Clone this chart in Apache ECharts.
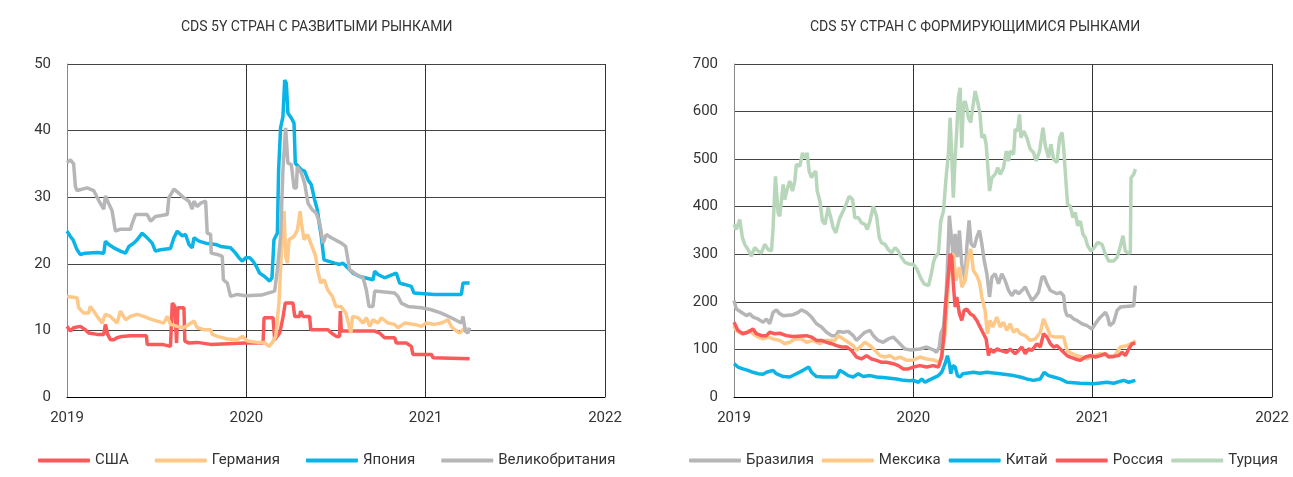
<!DOCTYPE html>
<html>
<head>
<meta charset="utf-8">
<script src="https://cdn.jsdelivr.net/npm/echarts@6/dist/echarts.min.js"></script>
<style>
    html, body { margin: 0; padding: 0; background: #fff; }
    #chart { width: 1293px; height: 477px; }
</style>
</head>
<body>
<div id="chart"></div>
<script>
    // x = decimal year, y = CDS 5Y, b.p.
    var years = [2019, 2020, 2021, 2022];

    // ---- развитые рынки ----
    var usa = [[2019.000,10.6],[2019.019,9.9],[2019.037,10.4],[2019.074,10.6],[2019.102,10.1],[2019.121,9.6],[2019.168,9.4],[2019.205,9.4],[2019.214,10.9],[2019.227,9.4],[2019.242,8.6],[2019.261,8.6],[2019.279,8.9],[2019.307,9.1],[2019.354,9.2],[2019.443,9.2],[2019.447,7.9],[2019.531,7.9],[2019.536,7.6],[2019.577,7.6],[2019.587,14.1],[2019.601,13.6],[2019.611,8.1],[2019.618,13.4],[2019.652,13.4],[2019.657,8.4],[2019.680,8.1],[2019.726,8.2],[2019.801,7.9],[2019.996,8.1],[2020.093,8.1],[2020.099,11.9],[2020.149,11.9],[2020.158,8.6],[2020.186,9.6],[2020.204,11.9],[2020.217,14.1],[2020.260,14.1],[2020.270,12.1],[2020.297,12.1],[2020.303,12.9],[2020.316,12.1],[2020.353,12.1],[2020.359,10.1],[2020.455,10.1],[2020.474,9.6],[2020.502,9.1],[2020.520,9.1],[2020.524,12.9],[2020.530,9.9],[2020.716,9.9],[2020.743,9.6],[2020.771,8.9],[2020.827,8.9],[2020.836,8.1],[2020.892,8.1],[2020.920,7.6],[2020.929,6.4],[2021.032,6.4],[2021.041,5.9],[2021.245,5.75]];
    var germany = [[2019.000,15.1],[2019.056,14.9],[2019.065,13.4],[2019.093,12.6],[2019.121,12.6],[2019.130,13.6],[2019.149,12.9],[2019.168,12.1],[2019.196,11.1],[2019.214,12.4],[2019.242,12.1],[2019.261,11.6],[2019.279,11.1],[2019.298,12.9],[2019.326,11.6],[2019.354,12.1],[2019.391,12.4],[2019.428,12.1],[2019.466,11.7],[2019.503,11.4],[2019.540,11.1],[2019.559,12.1],[2019.577,10.9],[2019.615,10.6],[2019.652,10.4],[2019.708,11.4],[2019.726,10.4],[2019.764,10.1],[2019.801,10.1],[2019.810,9.4],[2019.838,9.1],[2019.894,8.7],[2019.950,8.6],[2019.978,9.1],[2020.006,8.4],[2020.061,8.2],[2020.099,8.2],[2020.127,7.6],[2020.145,8.2],[2020.164,9.1],[2020.182,14.1],[2020.196,22.1],[2020.210,27.9],[2020.220,21.1],[2020.229,20.1],[2020.238,23.6],[2020.266,24.1],[2020.285,25.1],[2020.300,27.9],[2020.307,26.1],[2020.322,23.6],[2020.341,24.4],[2020.359,23.1],[2020.387,21.1],[2020.397,19.1],[2020.415,17.1],[2020.434,17.6],[2020.453,16.1],[2020.480,15.1],[2020.499,13.6],[2020.527,13.6],[2020.555,12.6],[2020.583,9.6],[2020.592,12.1],[2020.623,11.9],[2020.651,11.1],[2020.669,11.9],[2020.688,10.6],[2020.706,11.6],[2020.734,11.1],[2020.753,11.9],[2020.790,11.1],[2020.827,10.9],[2020.846,10.4],[2020.883,11.1],[2020.939,10.9],[2020.976,10.6],[2021.004,11.1],[2021.050,10.9],[2021.087,11.1],[2021.125,11.6],[2021.143,10.6],[2021.162,10.1],[2021.190,9.6],[2021.208,10.1],[2021.236,10.2]];
    var japan = [[2019.000,24.9],[2019.009,25.1],[2019.019,24.1],[2019.034,23.6],[2019.056,22.1],[2019.074,21.4],[2019.102,21.6],[2019.168,21.7],[2019.205,21.6],[2019.214,23.4],[2019.233,22.9],[2019.261,22.4],[2019.298,21.9],[2019.326,21.6],[2019.345,22.6],[2019.372,23.1],[2019.391,23.6],[2019.419,24.6],[2019.447,23.9],[2019.475,23.1],[2019.493,21.9],[2019.521,22.1],[2019.577,22.3],[2019.596,23.9],[2019.615,24.9],[2019.642,24.2],[2019.661,24.4],[2019.680,22.9],[2019.698,22.4],[2019.708,23.9],[2019.736,23.4],[2019.773,23.1],[2019.829,22.9],[2019.857,22.6],[2019.912,22.4],[2019.940,21.6],[2019.959,20.9],[2019.978,20.4],[2019.996,20.9],[2020.019,20.9],[2020.037,20.4],[2020.056,19.6],[2020.074,18.6],[2020.102,18.1],[2020.130,17.4],[2020.143,17.9],[2020.154,23.6],[2020.173,24.6],[2020.180,34.1],[2020.191,40.4],[2020.204,42.1],[2020.214,47.6],[2020.223,47.1],[2020.232,42.6],[2020.251,41.9],[2020.266,41.1],[2020.273,35.1],[2020.307,34.1],[2020.325,33.9],[2020.344,32.6],[2020.362,31.9],[2020.381,29.6],[2020.396,28.1],[2020.409,25.6],[2020.418,24.1],[2020.433,20.6],[2020.493,20.1],[2020.520,19.9],[2020.539,20.1],[2020.558,19.6],[2020.576,19.1],[2020.595,18.6],[2020.632,18.1],[2020.706,17.6],[2020.716,18.9],[2020.734,18.4],[2020.771,17.9],[2020.818,18.4],[2020.836,18.6],[2020.855,17.1],[2020.883,16.9],[2020.920,16.6],[2020.935,15.6],[2021.050,15.4],[2021.199,15.4],[2021.208,17.1],[2021.245,17.1]];
    var uk = [[2019.000,35.2],[2019.019,35.6],[2019.037,35.0],[2019.047,31.6],[2019.056,31.0],[2019.112,31.4],[2019.149,31.0],[2019.177,29.5],[2019.205,28.2],[2019.214,30.2],[2019.233,29.0],[2019.251,28.0],[2019.270,24.9],[2019.298,25.2],[2019.354,25.2],[2019.363,26.0],[2019.382,27.4],[2019.447,27.4],[2019.466,26.4],[2019.493,27.1],[2019.559,27.4],[2019.568,29.9],[2019.596,31.2],[2019.624,30.6],[2019.652,29.9],[2019.680,29.4],[2019.698,28.2],[2019.708,29.4],[2019.726,28.6],[2019.745,29.1],[2019.773,29.4],[2019.782,24.6],[2019.801,24.4],[2019.804,21.6],[2019.838,21.4],[2019.866,21.1],[2019.872,17.6],[2019.894,17.1],[2019.912,15.1],[2019.950,15.4],[2019.996,15.2],[2020.084,15.3],[2020.158,15.9],[2020.173,19.1],[2020.191,24.1],[2020.204,34.0],[2020.219,40.4],[2020.232,35.1],[2020.251,34.9],[2020.266,31.4],[2020.279,31.4],[2020.284,34.6],[2020.307,33.6],[2020.325,32.1],[2020.344,29.1],[2020.368,28.1],[2020.390,27.6],[2020.409,26.1],[2020.428,23.1],[2020.446,24.4],[2020.474,23.9],[2020.530,23.1],[2020.554,22.6],[2020.576,19.1],[2020.613,18.4],[2020.651,17.9],[2020.669,16.1],[2020.684,13.6],[2020.706,13.6],[2020.716,15.9],[2020.827,15.6],[2020.846,15.1],[2020.864,14.1],[2020.901,13.6],[2020.976,13.4],[2021.032,13.1],[2021.087,12.6],[2021.143,11.9],[2021.199,11.1],[2021.208,12.1],[2021.221,9.9],[2021.236,9.6],[2021.245,10.4]];

    // ---- формирующиеся рынки ----
    var brazil = [[2019.000,203],[2019.013,185],[2019.041,178],[2019.069,171],[2019.088,175],[2019.106,168],[2019.134,164],[2019.162,157],[2019.181,164],[2019.199,154],[2019.218,178],[2019.236,183],[2019.255,175],[2019.274,171],[2019.330,173],[2019.358,178],[2019.376,183],[2019.404,178],[2019.432,168],[2019.460,154],[2019.488,147],[2019.516,136],[2019.544,129],[2019.568,129],[2019.581,138],[2019.609,136],[2019.637,138],[2019.665,129],[2019.683,119],[2019.702,126],[2019.730,136],[2019.758,140],[2019.777,129],[2019.804,119],[2019.832,115],[2019.860,122],[2019.888,126],[2019.907,119],[2019.935,108],[2019.953,101],[2019.981,99],[2020.037,101],[2020.074,105],[2020.112,99],[2020.130,94],[2020.145,105],[2020.153,133],[2020.168,147],[2020.182,210],[2020.190,273],[2020.201,381],[2020.214,329],[2020.223,287],[2020.233,343],[2020.246,294],[2020.257,350],[2020.270,280],[2020.289,245],[2020.298,315],[2020.311,371],[2020.322,322],[2020.339,315],[2020.354,336],[2020.369,350],[2020.382,322],[2020.395,287],[2020.410,259],[2020.425,210],[2020.438,252],[2020.456,259],[2020.475,238],[2020.493,259],[2020.512,245],[2020.531,224],[2020.549,213],[2020.568,224],[2020.587,217],[2020.605,224],[2020.624,231],[2020.642,217],[2020.661,203],[2020.680,210],[2020.698,220],[2020.717,252],[2020.730,253],[2020.745,238],[2020.764,224],[2020.801,217],[2020.819,220],[2020.838,213],[2020.847,182],[2020.857,171],[2020.875,171],[2020.894,164],[2020.912,161],[2020.940,154],[2020.968,150],[2020.996,143],[2021.015,154],[2021.034,164],[2021.052,171],[2021.071,178],[2021.084,168],[2021.095,150],[2021.117,157],[2021.136,182],[2021.155,189],[2021.229,192],[2021.238,234]];
    var mexico = [[2019.000,150],[2019.013,140],[2019.041,133],[2019.069,136],[2019.088,140],[2019.106,133],[2019.134,126],[2019.162,122],[2019.190,126],[2019.218,122],[2019.255,119],[2019.283,112],[2019.311,115],[2019.339,122],[2019.376,122],[2019.404,115],[2019.441,119],[2019.479,112],[2019.507,119],[2019.562,119],[2019.581,129],[2019.609,122],[2019.637,115],[2019.665,108],[2019.683,98],[2019.711,108],[2019.730,115],[2019.758,108],[2019.786,98],[2019.814,87],[2019.842,84],[2019.870,87],[2019.898,80],[2019.926,84],[2019.963,77],[2020.000,78],[2020.037,84],[2020.074,80],[2020.112,78],[2020.145,73],[2020.158,87],[2020.177,133],[2020.190,210],[2020.205,294],[2020.223,301],[2020.238,245],[2020.257,273],[2020.270,231],[2020.289,245],[2020.307,294],[2020.320,311],[2020.335,266],[2020.354,255],[2020.369,241],[2020.382,210],[2020.400,182],[2020.413,133],[2020.428,161],[2020.443,147],[2020.466,168],[2020.484,147],[2020.503,157],[2020.521,140],[2020.540,154],[2020.559,136],[2020.577,143],[2020.596,133],[2020.624,129],[2020.652,119],[2020.680,122],[2020.708,136],[2020.726,164],[2020.745,147],[2020.764,129],[2020.791,126],[2020.838,126],[2020.857,98],[2020.885,91],[2020.912,87],[2020.940,84],[2020.968,80],[2021.006,87],[2021.043,91],[2021.117,84],[2021.155,105],[2021.192,108],[2021.229,115],[2021.238,119]];
    var china = [[2019.000,70],[2019.022,63],[2019.050,59],[2019.078,56],[2019.106,52],[2019.134,49],[2019.162,48],[2019.181,52],[2019.218,56],[2019.236,49],[2019.274,43],[2019.311,42],[2019.348,49],[2019.385,56],[2019.417,63],[2019.432,52],[2019.460,43],[2019.497,42],[2019.572,42],[2019.590,56],[2019.609,52],[2019.637,45],[2019.665,42],[2019.693,49],[2019.721,43],[2019.758,45],[2019.795,42],[2019.832,41],[2019.907,38],[2019.944,35],[2019.981,34],[2020.000,35],[2020.028,31],[2020.047,38],[2020.065,31],[2020.084,35],[2020.102,38],[2020.140,45],[2020.158,52],[2020.177,70],[2020.190,87],[2020.201,70],[2020.209,49],[2020.220,66],[2020.233,63],[2020.246,45],[2020.261,42],[2020.276,49],[2020.335,52],[2020.372,50],[2020.410,52],[2020.484,49],[2020.559,45],[2020.596,42],[2020.633,38],[2020.670,35],[2020.708,38],[2020.730,52],[2020.754,45],[2020.782,42],[2020.819,38],[2020.857,31],[2020.931,29],[2021.006,28],[2021.080,31],[2021.117,29],[2021.173,35],[2021.201,31],[2021.238,35]];
    var russia = [[2019.000,157],[2019.022,140],[2019.050,133],[2019.078,136],[2019.106,143],[2019.125,133],[2019.153,129],[2019.181,129],[2019.199,136],[2019.227,133],[2019.255,134],[2019.292,129],[2019.330,127],[2019.404,129],[2019.432,126],[2019.460,119],[2019.488,119],[2019.516,115],[2019.544,112],[2019.572,108],[2019.600,105],[2019.628,105],[2019.655,98],[2019.683,84],[2019.711,80],[2019.739,87],[2019.767,80],[2019.795,77],[2019.823,73],[2019.851,73],[2019.888,70],[2019.916,66],[2019.944,59],[2019.972,59],[2020.000,63],[2020.037,66],[2020.074,63],[2020.112,66],[2020.140,63],[2020.158,84],[2020.171,133],[2020.182,203],[2020.196,259],[2020.205,301],[2020.214,294],[2020.223,238],[2020.233,189],[2020.242,210],[2020.257,175],[2020.270,161],[2020.283,182],[2020.298,185],[2020.317,175],[2020.335,171],[2020.354,161],[2020.372,147],[2020.391,133],[2020.406,122],[2020.419,87],[2020.428,101],[2020.447,94],[2020.466,101],[2020.484,98],[2020.521,94],[2020.540,101],[2020.568,91],[2020.587,98],[2020.605,105],[2020.624,91],[2020.642,101],[2020.661,98],[2020.689,112],[2020.708,105],[2020.726,133],[2020.745,126],[2020.764,112],[2020.782,105],[2020.801,108],[2020.819,101],[2020.857,87],[2020.875,84],[2020.903,80],[2020.931,77],[2020.959,84],[2020.987,87],[2021.015,84],[2021.043,87],[2021.071,91],[2021.089,84],[2021.145,87],[2021.164,94],[2021.182,87],[2021.201,101],[2021.220,112],[2021.238,113]];
    var turkey = [[2019.000,363],[2019.013,352],[2019.032,373],[2019.047,335],[2019.060,321],[2019.078,310],[2019.097,296],[2019.115,314],[2019.134,307],[2019.153,303],[2019.171,321],[2019.190,310],[2019.209,307],[2019.218,356],[2019.231,464],[2019.246,387],[2019.255,380],[2019.274,447],[2019.283,415],[2019.296,436],[2019.311,454],[2019.326,433],[2019.339,454],[2019.348,489],[2019.367,485],[2019.382,513],[2019.395,503],[2019.408,513],[2019.419,475],[2019.432,461],[2019.441,468],[2019.456,475],[2019.464,433],[2019.479,412],[2019.493,370],[2019.507,363],[2019.525,398],[2019.540,377],[2019.553,356],[2019.568,345],[2019.587,373],[2019.600,384],[2019.613,394],[2019.628,408],[2019.642,422],[2019.661,415],[2019.674,377],[2019.693,377],[2019.711,366],[2019.730,363],[2019.743,352],[2019.758,370],[2019.777,401],[2019.795,380],[2019.810,335],[2019.823,324],[2019.842,321],[2019.860,310],[2019.879,303],[2019.898,314],[2019.916,307],[2019.935,293],[2019.953,283],[2019.981,279],[2020.000,279],[2020.020,269],[2020.040,251],[2020.060,238],[2020.085,234],[2020.102,262],[2020.112,283],[2020.121,293],[2020.140,303],[2020.153,370],[2020.168,391],[2020.181,454],[2020.196,514],[2020.205,587],[2020.214,510],[2020.223,419],[2020.233,503],[2020.242,559],[2020.251,629],[2020.261,650],[2020.270,524],[2020.279,615],[2020.289,622],[2020.298,608],[2020.307,587],[2020.320,577],[2020.331,608],[2020.345,643],[2020.358,622],[2020.372,594],[2020.382,545],[2020.395,552],[2020.406,531],[2020.413,496],[2020.425,433],[2020.438,461],[2020.456,468],[2020.471,482],[2020.484,468],[2020.503,482],[2020.518,517],[2020.531,496],[2020.540,517],[2020.559,510],[2020.568,563],[2020.581,559],[2020.592,594],[2020.600,545],[2020.615,559],[2020.633,545],[2020.652,521],[2020.670,514],[2020.685,496],[2020.704,517],[2020.723,566],[2020.736,528],[2020.754,503],[2020.767,531],[2020.782,500],[2020.801,493],[2020.816,545],[2020.829,556],[2020.838,524],[2020.847,475],[2020.860,405],[2020.875,402],[2020.890,377],[2020.903,388],[2020.916,360],[2020.931,370],[2020.946,342],[2020.959,335],[2020.972,318],[2020.991,307],[2021.009,314],[2021.028,325],[2021.052,321],[2021.071,300],[2021.089,286],[2021.117,286],[2021.136,293],[2021.155,318],[2021.169,339],[2021.182,307],[2021.197,303],[2021.210,303],[2021.214,461],[2021.229,468],[2021.238,479]];

    var FONT = 'Roboto, "Noto Sans", sans-serif';
    var TXT = '#333';

    function xAxis(idx) {
        return {
            type: 'value', gridIndex: idx,
            min: years[0], max: years[years.length - 1], interval: 1,
            axisLine: { lineStyle: { color: '#000', width: 1 } },
            axisTick: { show: false },
            axisLabel: { color: TXT, fontSize: 15, fontFamily: FONT, margin: 14,
                formatter: function (v) { return String(v); } },
            splitLine: { show: true, lineStyle: { color: '#333', width: 1 } }
        };
    }
    function yAxis(idx, max, step) {
        return {
            type: 'value', gridIndex: idx,
            min: 0, max: max, interval: step,
            axisLine: { show: true, lineStyle: { color: '#888', width: 1 } },
            axisTick: { show: false },
            axisLabel: { color: TXT, fontSize: 15, fontFamily: FONT, margin: 16 },
            splitLine: { show: true, lineStyle: { color: '#444', width: 1 } }
        };
    }
    function line(name, data, color, idx) {
        return {
            type: 'line', name: name, data: data,
            xAxisIndex: idx, yAxisIndex: idx,
            showSymbol: false, symbol: 'none',
            lineStyle: { color: color, width: 3.5 },
            itemStyle: { color: color },
            silent: true, z: 3
        };
    }

    var chart = echarts.init(document.getElementById('chart'));
    function legend(left, gap, names) {
        return {
            left: left, bottom: 4, width: 1293 - left, orient: 'horizontal',
            icon: 'roundRect', itemWidth: 52, itemHeight: 4, itemGap: gap,
            textStyle: { color: TXT, fontSize: 15, fontFamily: FONT },
            data: names
        };
    }
    chart.setOption({
        animation: false,
        backgroundColor: '#fff',
        title: [
            { text: 'CDS 5Y СТРАН С РАЗВИТЫМИ РЫНКАМИ', left: 176, top: 15,
              textStyle: { color: TXT, fontSize: 14, fontWeight: 'normal', fontFamily: FONT } },
            { text: 'CDS 5Y СТРАН С ФОРМИРУЮЩИМИСЯ РЫНКАМИ', left: 805, top: 15,
              textStyle: { color: TXT, fontSize: 14, fontWeight: 'normal', fontFamily: FONT } }
        ],
        legend: [
            legend(33, 26, ['США', 'Германия', 'Япония', 'Великобритания']),
            legend(684, 8, ['Бразилия', 'Мексика', 'Китай', 'Россия', 'Турция'])
        ],
        grid: [
            { left: 67, right: 688, top: 64, bottom: 80 },
            { left: 734, right: 21, top: 64, bottom: 80 }
        ],
        xAxis: [xAxis(0), xAxis(1)],
        yAxis: [yAxis(0, 50, 10), yAxis(1, 700, 100)],
        series: [
            line('США', usa, '#FA5A5A', 0),
            line('Германия', germany, '#FDC888', 0),
            line('Япония', japan, '#0BB4E6', 0),
            line('Великобритания', uk, '#B6B6B8', 0),
            line('Бразилия', brazil, '#B6B6B8', 1),
            line('Мексика', mexico, '#FDC888', 1),
            line('Китай', china, '#0BB4E6', 1),
            line('Россия', russia, '#FA5A5A', 1),
            line('Турция', turkey, '#B8D6BA', 1)
        ]
    });
</script>
</body>
</html>
